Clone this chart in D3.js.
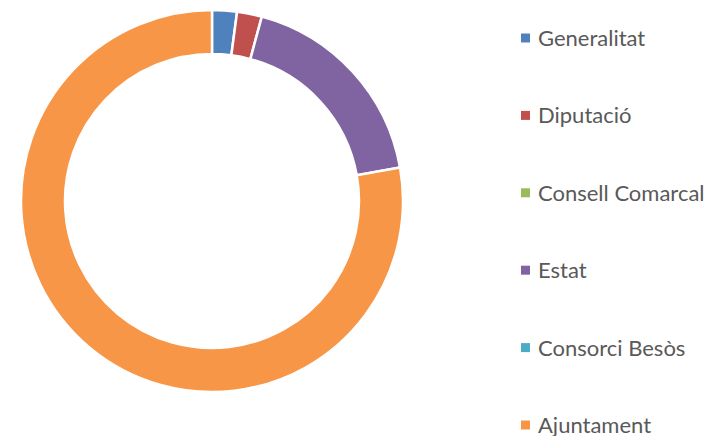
<!DOCTYPE html>
<html>
<head>
<meta charset="utf-8">
<script src="https://cdn.jsdelivr.net/npm/d3@7"></script>
<style>
  body { margin: 0; background: #fff; }
  text { font-family: Lato, "Open Sans", sans-serif; }
</style>
</head>
<body>
<div id="chart"></div>
<script>
// categories and their share (%)
var categories = ['Generalitat', 'Diputació', 'Consell Comarcal', 'Estat', 'Consorci Besòs', 'Ajuntament'];
var values = [2.1, 2.1, 0, 18.0, 0, 77.8];
var colors = ['#4F81BD', '#C0504D', '#9BBB59', '#8064A2', '#4BACC6', '#F79646'];

var width = 707, height = 436;
var cx = 212, cy = 201, outer = 191, inner = 147;

var svg = d3.select('#chart')
  .append('svg')
  .attr('width', width)
  .attr('height', height);

var data = categories.map(function (c, i) {
  return { name: c, value: values[i], color: colors[i] };
});

var pie = d3.pie()
  .sort(null)
  .value(function (d) { return d.value; });

var arc = d3.arc().innerRadius(inner).outerRadius(outer);

var g = svg.append('g').attr('transform', 'translate(' + cx + ',' + cy + ')');

g.selectAll('path')
  .data(pie(data).filter(function (d) { return d.data.value > 0; }))
  .enter()
  .append('path')
  .attr('d', arc)
  .attr('fill', function (d) { return d.data.color; })
  .attr('stroke', '#fff')
  .attr('stroke-width', 2.5);

// legend
var y = d3.scalePoint().domain(categories).range([38, 425]);

var legend = svg.append('g')
  .selectAll('g')
  .data(data)
  .enter()
  .append('g')
  .attr('transform', function (d) { return 'translate(521,' + y(d.name) + ')'; });

legend.append('rect')
  .attr('x', 0)
  .attr('y', -4.5)
  .attr('width', 9)
  .attr('height', 9)
  .attr('fill', function (d) { return d.color; });

legend.append('text')
  .attr('x', 17)
  .attr('y', 0)
  .attr('dy', '0.36em')
  .attr('fill', '#595959')
  .style('font-size', '22px')
  .text(function (d) { return d.name; });
</script>
</body>
</html>
